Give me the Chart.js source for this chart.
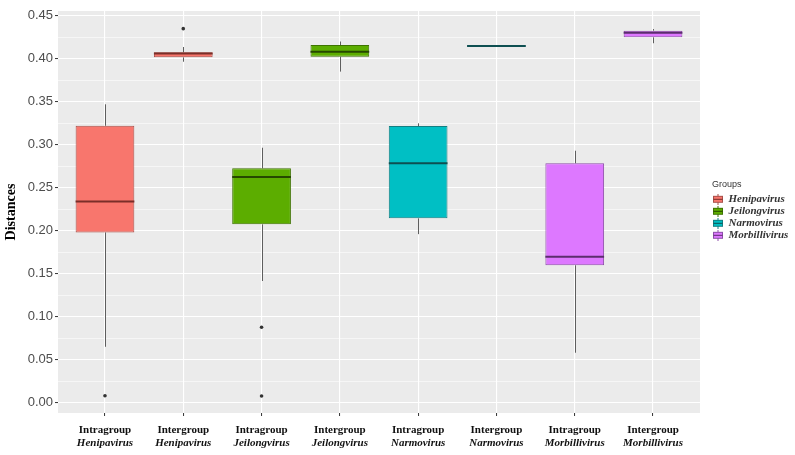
<!DOCTYPE html>
<html>
<head>
<meta charset="utf-8">
<script src="https://cdn.jsdelivr.net/npm/chart.js@4.4.1/dist/chart.umd.min.js"></script>
<style>
  html, body { margin: 0; padding: 0; background: #fff; }
  #wrap { width: 795px; height: 455px; }
</style>
</head>
<body>
<div id="wrap"><canvas id="graficoDistancias"></canvas></div>
<script>
// comparações (primeira linha do rótulo) e gênero de cada caixa
const comparacoes = ['Intragroup', 'Intergroup', 'Intragroup', 'Intergroup', 'Intragroup', 'Intergroup', 'Intragroup', 'Intergroup'];
const generos = ['Henipavirus', 'Henipavirus', 'Jeilongvirus', 'Jeilongvirus', 'Narmovirus', 'Narmovirus', 'Morbillivirus', 'Morbillivirus'];
const grupos = ['Henipavirus', 'Jeilongvirus', 'Narmovirus', 'Morbillivirus'];

const minimos  = [0.065, 0.3965, 0.1415, 0.385, 0.196, 0.4142, 0.0581, 0.418];
const quartil1 = [0.198, 0.4016, 0.2074, 0.4023, 0.2144, 0.4144, 0.1598, 0.4249];
const medianas = [0.234, 0.4062, 0.2624, 0.408, 0.2784, 0.4148, 0.1698, 0.4302];
const quartil3 = [0.322, 0.4074, 0.2726, 0.4159, 0.3217, 0.4152, 0.2784, 0.4326];
const maximos  = [0.347, 0.4136, 0.2965, 0.420, 0.3249, 0.4154, 0.293, 0.4345];

// pontos fora dos bigodes (índice da caixa e valor)
const outlierCaixa = [0, 1, 2, 2];
const outlierValor = [0.008, 0.435, 0.0877, 0.0078];

// marcas do eixo y (as de 0.05 em 0.05 levam rótulo)
const marcasY = [0, 0.025, 0.05, 0.075, 0.1, 0.125, 0.15, 0.175, 0.2, 0.225, 0.25, 0.275, 0.3, 0.325, 0.35, 0.375, 0.4, 0.425, 0.45];
const rotulosY = ['0.00', '', '0.05', '', '0.10', '', '0.15', '', '0.20', '', '0.25', '', '0.30', '', '0.35', '', '0.40', '', '0.45'];

// cores por grupo
const coresFundo = ['#F8766D', '#5CAD00', '#00BFC4', '#DD78FF'];
const coresBorda = ['#A8504A', '#3E7400', '#127F82', '#8E4FAA'];
const coresMediana = ['#7A2E29', '#264800', '#0E4F51', '#5B2D6E'];

// desenha o pequeno boxplot usado como chave da legenda
function criaChave(i) {
  const c = document.createElement('canvas');
  c.width = 10;
  c.height = 11;
  const g = c.getContext('2d');
  g.strokeStyle = coresBorda[i];
  g.lineWidth = 1;
  g.beginPath();
  g.moveTo(5, 0);
  g.lineTo(5, 11);
  g.stroke();
  g.fillStyle = coresFundo[i];
  g.fillRect(0.5, 2.5, 9, 6);
  g.strokeRect(0.5, 2.5, 9, 6);
  g.strokeStyle = coresMediana[i];
  g.beginPath();
  g.moveTo(0.5, 5.5);
  g.lineTo(9.5, 5.5);
  g.stroke();
  return c;
}
const chaves = grupos.map((g, i) => criaChave(i));

// um conjunto de barras flutuantes (Q1 a Q3) por grupo
const conjuntosCaixas = grupos.map((grupo, gi) => {
  const dados = [];
  generos.forEach((gen, c) => {
    if (gen === grupo) dados.push({ x: c + 1, y: [quartil1[c], quartil3[c]] });
  });
  return {
    type: 'bar',
    label: grupo,
    data: dados,
    backgroundColor: coresFundo[gi],
    borderColor: coresBorda[gi],
    borderWidth: 1,
    borderSkipped: false,
    grouped: false,
    barPercentage: 0.75,
    categoryPercentage: 1
  };
});

const conjuntoOutliers = {
  type: 'scatter',
  label: 'outliers',
  data: outlierCaixa.map((c, i) => ({ x: c + 1, y: outlierValor[i] })),
  backgroundColor: '#333333',
  borderWidth: 0,
  pointRadius: 1.8
};

function ehPrincipal(v) {
  return Math.abs(v / 0.05 - Math.round(v / 0.05)) < 1e-6;
}

// fundo cinza, bigodes, medianas e segunda linha dos rótulos
const detalhesBoxplot = {
  id: 'detalhesBoxplot',
  beforeDraw(chart) {
    const { ctx, chartArea: a } = chart;
    ctx.save();
    ctx.fillStyle = '#EBEBEB';
    ctx.fillRect(a.left, a.top, a.right - a.left, a.bottom - a.top);
    ctx.restore();
  },
  beforeDatasetsDraw(chart) {
    const { ctx, scales: { x, y } } = chart;
    ctx.save();
    ctx.strokeStyle = '#5E5E5E';
    ctx.lineWidth = 1;
    generos.forEach((gen, i) => {
      const px = Math.round(x.getPixelForValue(i + 1)) + 0.5;
      ctx.beginPath();
      ctx.moveTo(px, y.getPixelForValue(maximos[i]));
      ctx.lineTo(px, y.getPixelForValue(quartil3[i]));
      ctx.moveTo(px, y.getPixelForValue(quartil1[i]));
      ctx.lineTo(px, y.getPixelForValue(minimos[i]));
      ctx.stroke();
    });
    ctx.restore();
  },
  afterDatasetsDraw(chart) {
    const { ctx, scales: { y } } = chart;
    ctx.save();
    ctx.lineWidth = 2;
    grupos.forEach((grupo, gi) => {
      const meta = chart.getDatasetMeta(gi);
      let k = 0;
      generos.forEach((gen, c) => {
        if (gen !== grupo) return;
        const barra = meta.data[k++];
        const py = y.getPixelForValue(medianas[c]);
        ctx.strokeStyle = coresMediana[gi];
        ctx.beginPath();
        ctx.moveTo(barra.x - barra.width / 2, py);
        ctx.lineTo(barra.x + barra.width / 2, py);
        ctx.stroke();
      });
    });
    ctx.restore();
  },
  afterDraw(chart) {
    const { ctx, scales: { x } } = chart;
    ctx.save();
    ctx.font = 'italic bold 11px "Liberation Serif"';
    ctx.fillStyle = '#111111';
    ctx.textAlign = 'center';
    ctx.textBaseline = 'middle';
    generos.forEach((gen, i) => {
      ctx.fillText(gen, x.getPixelForValue(i + 1), x.top + 30.5);
    });
    ctx.restore();
  }
};

const grafico = new Chart(document.getElementById('graficoDistancias'), {
  data: {
    datasets: [...conjuntosCaixas, conjuntoOutliers]
  },
  options: {
    responsive: true,
    maintainAspectRatio: false,
    animation: false,
    layout: { padding: { top: 11, left: 0, right: 0, bottom: 0 } },
    plugins: {
      tooltip: { enabled: false },
      legend: {
        position: 'right',
        align: 'start',
        maxWidth: 83,
        title: {
          display: true,
          text: 'Groups',
          position: 'start',
          color: '#333333',
          font: { family: 'Liberation Sans', size: 9 },
          padding: { top: 169, bottom: 2 }
        },
        labels: {
          usePointStyle: true,
          pointStyleWidth: 10,
          padding: 1,
          color: '#000000',
          font: { family: 'Liberation Serif', size: 11, weight: 'bold', style: 'italic' },
          generateLabels: () => grupos.map((g, i) => ({
            text: g,
            pointStyle: chaves[i],
            fillStyle: coresFundo[i],
            strokeStyle: coresBorda[i],
            lineWidth: 0,
            hidden: false,
            datasetIndex: i
          }))
        }
      }
    },
    scales: {
      x: {
        type: 'linear',
        min: 0.4,
        max: 8.6,
        offset: false,
        afterBuildTicks: (s) => { s.ticks = generos.map((g, i) => ({ value: i + 1 })); },
        afterFit: (s) => { s.height = 42; },
        border: { display: false },
        grid: { offset: false, color: '#FFFFFF', lineWidth: 1.1, tickLength: 3, tickColor: '#333333', tickWidth: 1 },
        ticks: {
          autoSkip: false,
          maxRotation: 0,
          padding: 8,
          color: '#111111',
          font: { family: 'Liberation Serif', size: 11, weight: 'bold' },
          callback: (v) => comparacoes[Math.round(v) - 1] || ''
        }
      },
      y: {
        type: 'linear',
        min: -0.012,
        max: 0.4555,
        afterBuildTicks: (s) => { s.ticks = marcasY.map((v) => ({ value: v })); },
        afterFit: (s) => { s.width = 58; },
        border: { display: false },
        title: {
          display: true,
          text: 'Distances',
          color: '#000000',
          font: { family: 'Liberation Serif', size: 14, weight: 'bold' },
          padding: { top: 3, bottom: 0 }
        },
        grid: {
          color: '#FFFFFF',
          lineWidth: (c) => (ehPrincipal(c.tick.value) ? 1.1 : 0.55),
          tickLength: 3,
          tickWidth: 1,
          tickColor: (c) => (ehPrincipal(c.tick.value) ? '#333333' : 'rgba(0,0,0,0)')
        },
        ticks: {
          autoSkip: false,
          padding: 2,
          color: '#4D4D4D',
          font: { family: 'Liberation Sans', size: 13 },
          callback: (v) => rotulosY[marcasY.findIndex((m) => Math.abs(m - v) < 1e-6)] || ''
        }
      },
      folga: {
        type: 'linear',
        axis: 'y',
        position: 'right',
        display: true,
        border: { display: false },
        grid: { display: false, drawTicks: false },
        ticks: { display: false },
        afterFit: (s) => { s.width = 12; }
      }
    }
  },
  plugins: [detalhesBoxplot]
});
</script>
</body>
</html>
